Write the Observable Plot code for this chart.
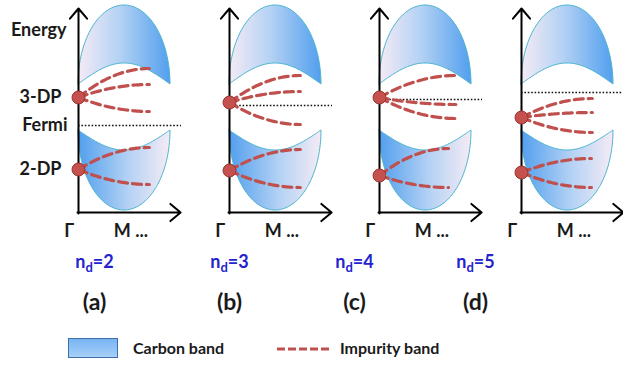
<!DOCTYPE html>
<html><head><meta charset="utf-8">
<script src="https://cdn.jsdelivr.net/npm/d3@7"></script>
<script src="https://cdn.jsdelivr.net/npm/@observablehq/plot@0.6"></script>
<style>
body{margin:0;background:#fff;font-family:Lato,"Open Sans",sans-serif;}
#chart svg{display:block;}
#legend{position:relative;width:623px;height:40px;font-weight:bold;font-size:16px;color:#1a1a1a;}
#legend .sw{position:absolute;left:68px;top:13px;width:48px;height:18px;border:1.5px solid #3f6fa6;background:linear-gradient(#78b4f3,#a6cff8);}
#legend .t{position:absolute;top:13px;line-height:20px;}
#legend svg{position:absolute;left:277px;top:21px;}
</style></head>
<body><div id="chart"></div>
<div id="legend"><div class="sw"></div><span class="t" style="left:133px">Carbon band</span>
<svg width="52" height="6"><line x1="0" y1="3" x2="52" y2="3" stroke="#c0504d" stroke-width="3" stroke-dasharray="8,3"/></svg>
<span class="t" style="left:340px">Impurity band</span></div>
<script>
// ---------- data (energies in arbitrary units, momentum k in band widths) ----------
const panels = ["(a)", "(b)", "(c)", "(d)"];
const nd = [2, 3, 4, 5];
const fermiE = [8.7, 10.7, 11.3, 12.0];
const dp3E = [11.5, 11.0, 11.5, 9.5];
const dp2E = [4.3, 4.2, 3.7, 4.0];
const imp3End = [[14.4, 12.8, 10.1], [13.7, 12.1, 8.8], [13.7, 10.8, 9.4], [11.4, 10.0, 8.0]];
const imp2End = [[6.5, 2.8], [6.3, 2.5], [6.4, 2.5], [5.4, 2.5]];
const imp3K = [0.77, 0.77, 0.83, 0.77];
const imp2K = [0.77, 0.77, 0.75, 0.76];
// carbon bands: [upper, lower]
const cbBase = [12.8, 8.2];
const cbOuter = [7.9, -8.0];
const cbInner = [2.1, -2.0];
const levelLabels = ["Energy", "3-DP", "Fermi", "2-DP"];
const kTicks = ["Γ", "M ..."];
const kTickPos = [-0.1, 0.57];

// ---------- layout ----------
const W = 623, H = 325;
const panelX0 = [78, 229, 379, 521];
const bandW = 92;
const captionX = [94, 229, 354, 475];
const Epx = y => (212 - y) / 10; // vertical layout helper (px from top -> energy units)
const font = "Lato, 'Open Sans', sans-serif";
const idx = d3.range(panels.length);

// carbon band outlines
const bandRows = [];
idx.forEach(p => [0, 1].forEach(b => {
  for (let i = 0; i <= 80; i++) {
    const t = Math.PI * i / 80;
    const k = (1 - Math.cos(t)) / 2;
    bandRows.push({z: p + "-" + b, b, x: panelX0[p] + k * bandW,
      y1: cbBase[b] + cbInner[b] * Math.sin(Math.PI * k),
      y2: cbBase[b] + cbOuter[b] * Math.sin(t)});
  }
}));

// impurity bands
const impRows = [];
function addImp(p, id, e0, e1, kend) {
  for (let i = 0; i <= 40; i++) {
    const k = kend * i / 40;
    const s = k / kend;
    impRows.push({id, x: panelX0[p] + k * bandW, y: e0 + (e1 - e0) * (1 - (1 - s) * (1 - s))});
  }
}
idx.forEach(p => {
  imp3End[p].forEach((e, j) => addImp(p, `u${p}${j}`, dp3E[p], e, imp3K[p]));
  imp2End[p].forEach((e, j) => addImp(p, `l${p}${j}`, dp2E[p], e, imp2K[p]));
});
const dpRows = idx.flatMap(p => [{x: panelX0[p], y: dp3E[p]}, {x: panelX0[p], y: dp2E[p]}]);
const tickRows = idx.flatMap(p => kTicks.map((t, j) => ({x: panelX0[p] + kTickPos[j] * bandW, text: t})));
const levelRows = [
  {text: levelLabels[0], x: 66, y: 18.2},
  {text: levelLabels[1], x: 61, y: dp3E[0]},
  {text: levelLabels[2], x: 67, y: fermiE[0]},
  {text: levelLabels[3], x: 61, y: dp2E[0]}
];

const svg = Plot.plot({
  width: W, height: H, margin: 0,
  x: {domain: [0, W], range: [0, W], axis: null},
  y: {domain: [Epx(H), Epx(0)], range: [H, 0], axis: null},
  marks: [
    Plot.areaY(bandRows.filter(d => d.b === 0), {x: "x", y1: "y1", y2: "y2", z: "z", fill: "url(#gUp)", stroke: "#4cb5cf", strokeWidth: 1}),
    Plot.areaY(bandRows.filter(d => d.b === 1), {x: "x", y1: "y1", y2: "y2", z: "z", fill: "url(#gLo)", stroke: "#4cb5cf", strokeWidth: 1}),
    Plot.ruleY(idx, {y: i => fermiE[i], x1: i => panelX0[i], x2: i => panelX0[i] + 1.12 * bandW, stroke: "#111", strokeWidth: 1.6, strokeDasharray: "1.6,1.8"}),
    Plot.line(impRows, {x: "x", y: "y", z: "id", stroke: "#c0504d", strokeWidth: 3.2, strokeDasharray: "9,5"}),
    Plot.arrow(idx, {x1: i => panelX0[i], y1: -0.1, x2: i => panelX0[i], y2: 20.4, stroke: "#000", strokeWidth: 2, headLength: 10, headAngle: 80}),
    Plot.arrow(idx, {x1: i => panelX0[i] - 1, y1: 0, x2: i => panelX0[i] + 1.11 * bandW, y2: 0, stroke: "#000", strokeWidth: 2, headLength: 10, headAngle: 80}),
    Plot.dot(dpRows, {x: "x", y: "y", r: 6.5, fill: "#c4514d", stroke: "#9a3431", strokeWidth: 1}),
    Plot.text(levelRows, {x: "x", y: "y", text: "text", textAnchor: "end", fontSize: 18, fontWeight: "bold", fontFamily: font, fill: "#1a1a1a"}),
    Plot.text(tickRows, {x: "x", y: Epx(231), text: "text", fontSize: 18, fontWeight: "bold", fontFamily: font, fill: "#1a1a1a"}),
    Plot.text(idx, {x: i => captionX[i], y: Epx(262), text: i => "nd=" + nd[i], fontSize: 18, fontWeight: "bold", fontFamily: font, fill: "#2323cf"}),
    Plot.text(idx, {x: i => captionX[i], y: Epx(302), text: i => panels[i], fontSize: 23, fontWeight: "bold", fontFamily: font, fill: "#1a1a1a"})
  ]
});

d3.select(svg).insert("defs", ":first-child").html(`
<linearGradient id="gUp" x1="0" x2="1" y1="0" y2="0">
 <stop offset="0" stop-color="#f5ebf5"/><stop offset="0.45" stop-color="#b4d2f4"/><stop offset="1" stop-color="#529fee"/>
</linearGradient>
<linearGradient id="gLo" x1="0" x2="1" y1="0" y2="0">
 <stop offset="0" stop-color="#529fee"/><stop offset="0.55" stop-color="#b4d2f4"/><stop offset="1" stop-color="#f5ebf5"/>
</linearGradient>`);

d3.select(svg).selectAll("text").each(function() {
  const s = this.textContent;
  if (/^nd=/.test(s)) {
    const t = d3.select(this);
    t.text("");
    t.append("tspan").text("n");
    t.append("tspan").attr("dy", 4).attr("font-size", 13).text("d");
    t.append("tspan").attr("dy", -4).text(s.slice(2));
  }
});
document.getElementById("chart").appendChild(svg);
</script>
</body></html>
